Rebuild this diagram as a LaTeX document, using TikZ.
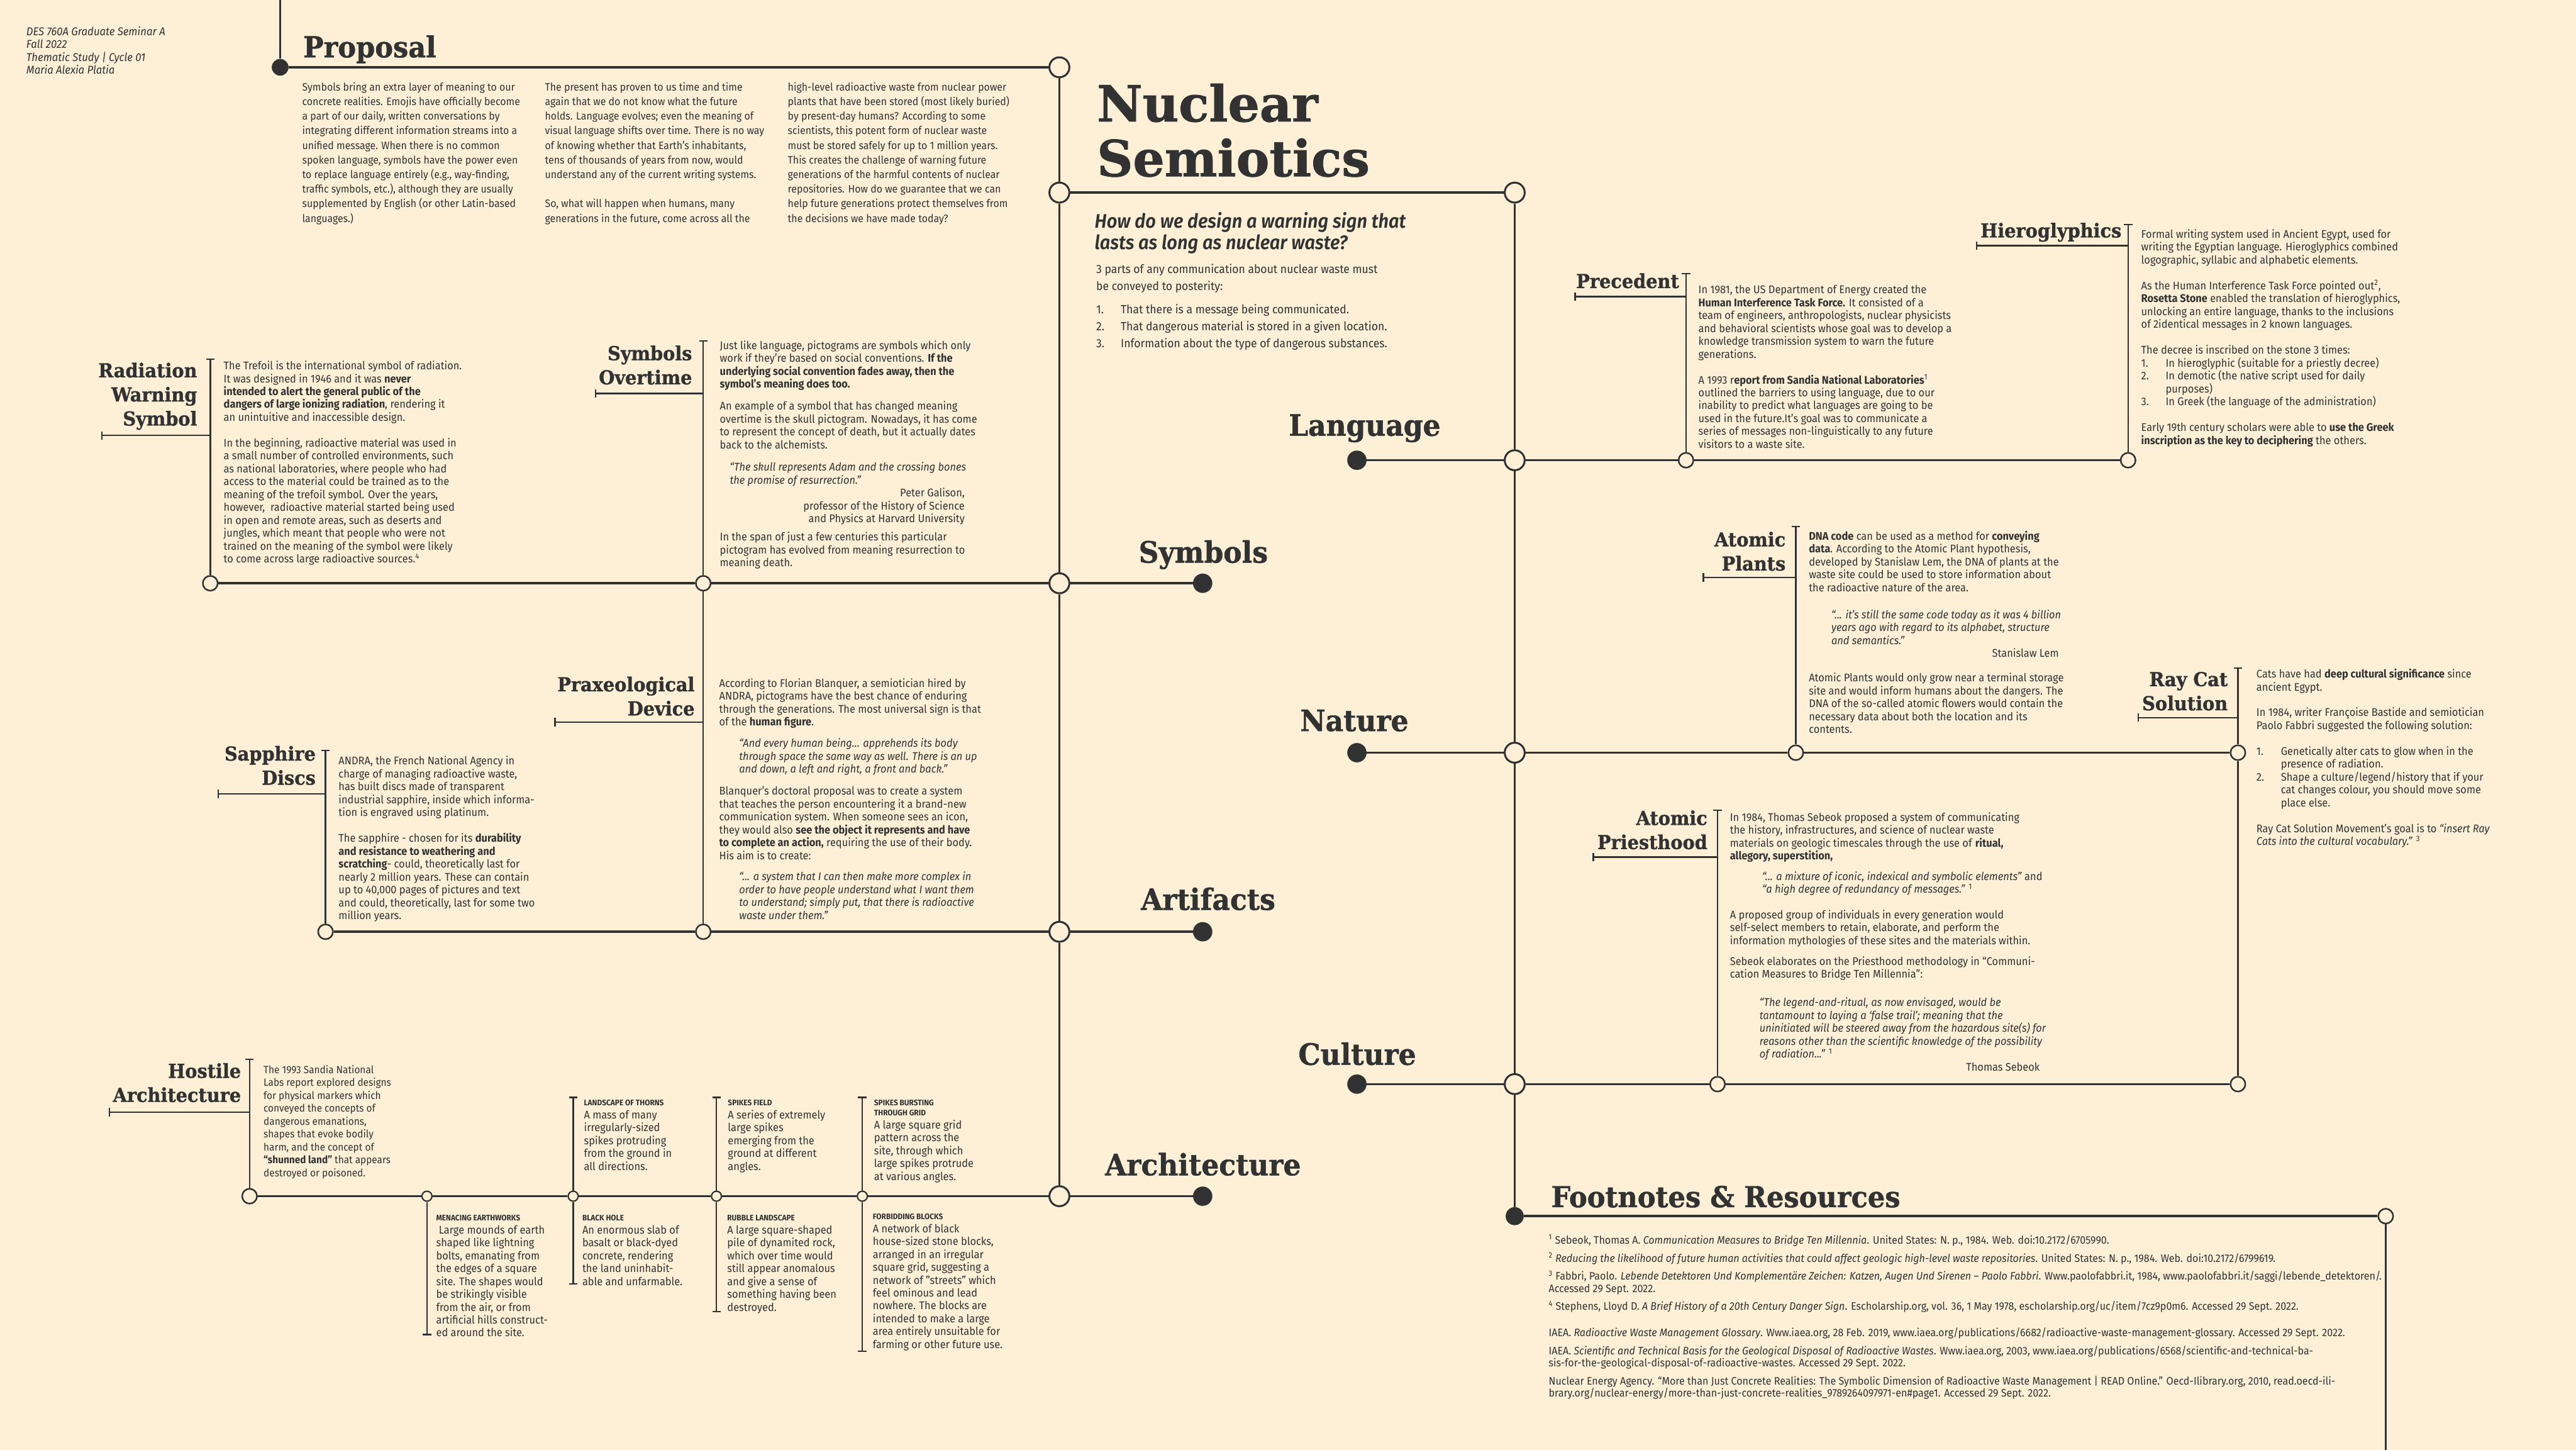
\documentclass[tikz,border=0pt]{standalone}
\usepackage{fontspec}
\setmainfont{Fira Sans}[UprightFont=*, ItalicFont=* Italic, BoldFont=* Bold, BoldItalicFont=* SemiBold Italic, FakeStretch=0.93]
\newfontfamily\slab{DejaVu Serif}[FakeStretch=0.94, BoldFeatures={FakeBold=1}]
\newfontfamily\titleslab{DejaVu Serif}[BoldFeatures={FakeBold=1}]
\usetikzlibrary{arrows.meta}
\definecolor{paper}{RGB}{253,240,215}
\definecolor{ink}{RGB}{50,50,50}
\newcommand{\itm}[1]{\makebox[0.76cm][l]{#1}}
\newcommand{\qin}{\hspace*{0.62cm}}
\newcommand{\archhead}{\bfseries\fontsize{7.1}{8}\selectfont}

\begin{document}
\begin{tikzpicture}[
  every node/.style={text=ink, inner sep=0pt},
  mainline/.style={draw=ink, line width=2pt},
  thinline/.style={draw=ink, line width=1.3pt},
  tick/.style={thinline, -{Bar[width=0.26cm]}},
  hub/.style={circle, draw=ink, line width=1.7pt, fill=paper, minimum size=0.62cm},
  joint/.style={circle, draw=ink, line width=1.4pt, fill=paper, minimum size=0.46cm},
  knot/.style={circle, draw=ink, line width=1.2pt, fill=paper, minimum size=0.31cm},
  enddot/.style={circle, fill=ink, minimum size=0.6cm},
  rowlabel/.style={font=\slab\bfseries\fontsize{26}{30}\selectfont, anchor=base},
  sublabel/.style={font=\slab\bfseries\fontsize{17}{21.3}\selectfont, align=right, anchor=south east, text depth=0pt},
  heading/.style={font=\slab\bfseries\fontsize{25.5}{30}\selectfont, anchor=base west},
  blurb/.style={font=\fontsize{9.8}{11.38}\selectfont, align=left, anchor=north west},
  propblurb/.style={font=\fontsize{9.5}{12.9}\selectfont, align=left, anchor=north west}
]
\useasboundingbox (0,0) rectangle (80,45.01);
\fill[paper] (0,0) rectangle (80,45.01);

% spine hubs
\coordinate (ptop) at (8.70,45.01);
\node[enddot, minimum size=0.52cm] (pdot) at (8.70,42.92) {};
\node[hub] (h1) at (32.90,42.92) {};
\node[hub] (h2) at (32.90,39.03) {};
\node[hub] (h3) at (47.04,39.03) {};
\node[hub] (hsym) at (32.90,26.90) {};
\node[hub] (hart) at (32.90,16.08) {};
\node[hub] (harc) at (32.90,7.87) {};
\node[hub] (hlan) at (47.04,30.72) {};
\node[hub] (hnat) at (47.04,21.64) {};
\node[hub] (hcul) at (47.04,11.35) {};
\node[enddot, minimum size=0.56cm] (fdot) at (47.04,7.25) {};
\node[joint] (fcirc) at (74.09,7.25) {};
\coordinate (fend) at (74.09,0);

% row end dots and labels
\node[enddot] (dsym) at (37.35,26.90) {};
\node[enddot] (dart) at (37.35,16.08) {};
\node[enddot] (darc) at (37.35,7.87) {};
\node[enddot] (dlan) at (42.14,30.72) {};
\node[enddot] (dnat) at (42.14,21.64) {};
\node[enddot] (dcul) at (42.14,11.35) {};
\node[rowlabel] (lsym) at (37.37,27.54) {Symbols};
\node[rowlabel] (lart) at (37.52,16.76) {Artifacts};
\node[rowlabel] (larc) at (37.36,8.52) {Architecture};
\node[rowlabel] (llan) at (42.38,31.48) {Language};
\node[rowlabel] (lnat) at (42.06,22.31) {Nature};
\node[rowlabel] (lcul) at (42.15,11.95) {Culture};

% branch joints
\node[joint] (jrad) at (6.53,26.90) {};
\node[joint] (jovt) at (21.84,26.90) {};
\node[joint] (jprx) at (21.84,16.08) {};
\node[joint] (jsap) at (10.11,16.08) {};
\node[joint] (jhos) at (7.75,7.87) {};
\node[knot] (k1) at (13.26,7.87) {};
\node[knot] (k2) at (17.80,7.87) {};
\node[knot] (k3) at (22.25,7.87) {};
\node[knot] (k4) at (26.78,7.87) {};
\node[joint] (jpre) at (52.36,30.72) {};
\node[joint] (jhie) at (66.09,30.72) {};
\node[joint] (jatp) at (55.77,21.64) {};
\node[joint] (jray) at (69.50,21.64) {};
\node[joint] (jpri) at (53.34,11.35) {};
\node[joint] (jrayb) at (69.50,11.35) {};

% tick ends
\coordinate (trad) at (6.53,33.88);   \coordinate (urad) at (6.53,31.49);   \coordinate (lrad) at (3.14,31.49);
\coordinate (tovt) at (21.84,34.44);  \coordinate (uovt) at (21.84,32.79);  \coordinate (lovt) at (18.47,32.79);
\coordinate (uprx) at (21.84,22.59);  \coordinate (lprx) at (17.21,22.59);
\coordinate (tsap) at (10.11,21.73);  \coordinate (usap) at (10.11,20.36);  \coordinate (lsap) at (6.75,20.36);
\coordinate (thos) at (7.75,12.14);   \coordinate (uhos) at (7.75,10.48);   \coordinate (lhos) at (3.37,10.48);
\coordinate (ta2) at (17.80,10.96);   \coordinate (ta3) at (22.25,10.96);   \coordinate (ta4) at (26.78,10.96);
\coordinate (tb1) at (13.26,3.55);    \coordinate (tb2) at (17.80,5.13);    \coordinate (tb3) at (22.25,4.26);    \coordinate (tb4) at (26.78,3.04);
\coordinate (tpre) at (52.36,36.54);  \coordinate (upre) at (52.36,35.80);  \coordinate (lpre) at (48.89,35.80);
\coordinate (thie) at (66.09,38.06);  \coordinate (uhie) at (66.09,37.38);  \coordinate (lhie) at (61.36,37.38);
\coordinate (tatp) at (55.77,28.68);  \coordinate (uatp) at (55.77,27.08);  \coordinate (latp) at (52.88,27.08);
\coordinate (tray) at (69.50,24.29);  \coordinate (uray) at (69.50,22.73);  \coordinate (lray) at (66.38,22.73);
\coordinate (tpri) at (53.34,19.88);  \coordinate (upri) at (53.34,18.40);  \coordinate (lpri) at (49.46,18.40);

% connectors
\draw[mainline] (ptop) -- (pdot);
\draw[mainline] (pdot) -- (h1);
\draw[mainline] (h1) -- (h2) -- (hsym) -- (hart) -- (harc);
\draw[mainline] (h2) -- (h3);
\draw[mainline] (h3) -- (hlan) -- (hnat) -- (hcul) -- (fdot);
\draw[mainline] (fdot) -- (fcirc);
\draw[thinline] (fcirc) -- (fend);
\draw[mainline] (dsym) -- (hsym) -- (jovt) -- (jrad);
\draw[mainline] (dart) -- (hart) -- (jprx) -- (jsap);
\draw[mainline] (darc) -- (harc) -- (k4) -- (k3) -- (k2) -- (k1) -- (jhos);
\draw[mainline] (dlan) -- (hlan) -- (jpre) -- (jhie);
\draw[mainline] (dnat) -- (hnat) -- (jatp) -- (jray);
\draw[mainline] (dcul) -- (hcul) -- (jpri) -- (jrayb);
\draw[tick] (jrad) -- (trad);  \draw[tick] (urad) -- (lrad);
\draw[tick] (jovt) -- (tovt);  \draw[tick] (uovt) -- (lovt);
\draw[thinline] (jovt) -- (jprx);  \draw[tick] (uprx) -- (lprx);
\draw[tick] (jsap) -- (tsap);  \draw[tick] (usap) -- (lsap);
\draw[tick] (jhos) -- (thos);  \draw[tick] (uhos) -- (lhos);
\draw[tick] (k2) -- (ta2);  \draw[tick] (k3) -- (ta3);  \draw[tick] (k4) -- (ta4);
\draw[tick] (k1) -- (tb1);  \draw[tick] (k2) -- (tb2);  \draw[tick] (k3) -- (tb3);  \draw[tick] (k4) -- (tb4);
\draw[tick] (jpre) -- (tpre);  \draw[tick] (upre) -- (lpre);
\draw[tick] (jhie) -- (thie);  \draw[tick] (uhie) -- (lhie);
\draw[tick] (jatp) -- (tatp);  \draw[tick] (uatp) -- (latp);
\draw[tick] (jray) -- (tray);  \draw[thinline] (jray) -- (jrayb);  \draw[tick] (uray) -- (lray);
\draw[tick] (jpri) -- (tpri);  \draw[tick] (upri) -- (lpri);

% header and proposal
\node[font=\itshape\fontsize{10}{11.4}\selectfont, align=left, anchor=north west] (course) at (0.81,44.19)
  {DES 760A Graduate Seminar A\\Fall 2022\\Thematic Study | Cycle 01\\Maria Alexia Platia};
\node[heading] (proposal) at (9.41,43.23) {Proposal};
\node[propblurb] (prop1) at (9.38,42.46) {Symbols bring an extra layer of meaning to our\\
concrete realities. Emojis have officially become\\
a part of our daily, written conversations by\\
integrating different information streams into a\\
unified message. When there is no common\\
spoken language, symbols have the power even\\
to replace language entirely (e.g., way-finding,\\
traffic symbols, etc.), although they are usually\\
supplemented by English (or other Latin-based\\
languages.)};
\node[propblurb] (prop2) at (16.92,42.46) {The present has proven to us time and time\\
again that we do not know what the future\\
holds. Language evolves; even the meaning of\\
visual language shifts over time. There is no way\\
of knowing whether that Earth’s inhabitants,\\
tens of thousands of years from now, would\\
understand any of the current writing systems.\\[12.9pt]
So, what will happen when humans, many\\
generations in the future, come across all the};
\node[propblurb] (prop3) at (24.46,42.46) {high-level radioactive waste from nuclear power\\
plants that have been stored (most likely buried)\\
by present-day humans? According to some\\
scientists, this potent form of nuclear waste\\
must be stored safely for up to 1 million years.\\
This creates the challenge of warning future\\
generations of the harmful contents of nuclear\\
repositories. How do we guarantee that we can\\
help future generations protect themselves from\\
the decisions we have made today?};

% title block
\node[font=\titleslab\bfseries\fontsize{44}{48.4}\selectfont, align=left, anchor=north west] (title) at (34.06,42.42) {Nuclear\\Semiotics};
\node[font=\bfseries\itshape\fontsize{17.3}{19}\selectfont, align=left, anchor=north west] (ask) at (33.99,38.42)
  {How do we design a warning sign that\\lasts as long as nuclear waste?};
\node[font=\fontsize{10.5}{14.8}\selectfont, align=left, anchor=north west] (intro) at (34.04,36.81)
  {3 parts of any communication about nuclear waste must\\
be conveyed to posterity:\\[6pt]
\itm{1.}That there is a message being communicated.\\
\itm{2.}That dangerous material is stored in a given location.\\
\itm{3.}Information about the type of dangerous substances.};

% symbols branch
\node[sublabel] (rad) at (6.13,31.79) {Radiation\\Warning\\Symbol};
\node[blurb] (radtext) at (6.94,33.81) {The Trefoil is the international symbol of radiation.\\
It was designed in 1946 and it was \textbf{never}\\
\textbf{intended to alert the general public of the}\\
\textbf{dangers of large ionizing radiation}, rendering it\\
an unintuitive and inaccessible design.\\[11.38pt]
In the beginning, radioactive material was used in\\
a small number of controlled environments, such\\
as national laboratories, where people who had\\
access to the material could be trained as to the\\
meaning of the trefoil symbol. Over the years,\\
however,\ \ radioactive material started being used\\
in open and remote areas, such as deserts and\\
jungles, which meant that people who were not\\
trained on the meaning of the symbol were likely\\
to come across large radioactive sources.\textsuperscript{4}};
\node[sublabel] (ovt) at (21.50,33.07) {Symbols\\Overtime};
\node[blurb] (ovttext) at (22.35,34.44) {Just like language, pictograms are symbols which only\\
work if they're based on social conventions. \textbf{If the}\\
\textbf{underlying social convention fades away, then the}\\
\textbf{symbol's meaning does too.}\\[8.2pt]
An example of a symbol that has changed meaning\\
overtime is the skull pictogram. Nowadays, it has come\\
to represent the concept of death, but it actually dates\\
back to the alchemists.\\[8.3pt]
\hspace*{0.31cm}\textit{“The skull represents Adam and the crossing bones}\\
\hspace*{0.31cm}\textit{the promise of resurrection.”}\\
\makebox[7.60cm][r]{Peter Galison,}\\
\makebox[7.60cm][r]{professor of the History of Science}\\
\makebox[7.60cm][r]{and Physics at Harvard University}\\[4.9pt]
In the span of just a few centuries this particular\\
pictogram has evolved from meaning resurrection to\\
meaning death.};

% artifacts branch
\node[sublabel] (prx) at (21.58,22.79) {Praxeological\\Device};
\node[blurb] (prxtext) at (22.33,23.95) {According to Florian Blanquer, a semiotician hired by\\
ANDRA, pictograms have the best chance of enduring\\
through the generations. The most universal sign is that\\
of the \textbf{human figure}.\\[7.6pt]
\qin\textit{“And every human being... apprehends its body}\\
\qin\textit{through space the same way as well. There is an up}\\
\qin\textit{and down, a left and right, a front and back.”}\\[8pt]
Blanquer’s doctoral proposal was to create a system\\
that teaches the person encountering it a brand-new\\
communication system. When someone sees an icon,\\
they would also \textbf{see the object it represents and have}\\
\textbf{to complete an action,} requiring the use of their body.\\
His aim is to create:\\[7.2pt]
\qin\textit{“... a system that I can then make more complex in}\\
\qin\textit{order to have people understand what I want them}\\
\qin\textit{to understand; simply put, that there is radioactive}\\
\qin\textit{waste under them.”}};
\node[sublabel] (sap) at (9.81,20.64) {Sapphire\\Discs};
\node[blurb] (saptext) at (10.51,21.54) {ANDRA, the French National Agency in\\
charge of managing radioactive waste,\\
has built discs made of transparent\\
industrial sapphire, inside which informa-\\
tion is engraved using platinum.\\[11.38pt]
The sapphire - chosen for its \textbf{durability}\\
\textbf{and resistance to weathering and}\\
\textbf{scratching}- could, theoretically last for\\
nearly 2 million years. These can contain\\
up to 40,000 pages of pictures and text\\
and could, theoretically, last for some two\\
million years.};

% architecture branch
\node[sublabel] (hos) at (7.49,10.79) {Hostile\\Architecture};
\node[blurb, font=\fontsize{9.2}{11.38}\selectfont] (hostext) at (8.18,11.94) {The 1993 Sandia National\\
Labs report explored designs\\
for physical markers which\\
conveyed the concepts of\\
dangerous emanations,\\
shapes that evoke bodily\\
harm, and the concept of\\
\textbf{“shunned land”} that appears\\
destroyed or poisoned.};
\node[blurb] (thorns) at (18.13,10.86) {{\archhead LANDSCAPE OF THORNS}\\
A mass of many\\irregularly-sized\\spikes protruding\\from the ground in\\all directions.};
\node[blurb] (spikes) at (22.60,10.86) {{\archhead SPIKES FIELD}\\
A series of extremely\\large spikes\\emerging from the\\ground at different\\angles.};
\node[blurb] (grid) at (27.14,10.86) {{\archhead SPIKES BURSTING}\\[-2.6pt]
{\archhead THROUGH GRID}\\
A large square grid\\pattern across the\\site, through which\\large spikes protrude\\at various angles.};
\node[blurb] (earth) at (13.54,7.29) {{\archhead MENACING EARTHWORKS}\\
\ Large mounds of earth\\shaped like lightning\\bolts, emanating from\\the edges of a square\\site. The shapes would\\be strikingly visible\\from the air, or from\\artificial hills construct-\\ed around the site.};
\node[blurb] (hole) at (18.08,7.29) {{\archhead BLACK HOLE}\\
An enormous slab of\\basalt or black-dyed\\concrete, rendering\\the land uninhabit-\\able and unfarmable.};
\node[blurb] (rubble) at (22.58,7.29) {{\archhead RUBBLE LANDSCAPE}\\
A large square-shaped\\pile of dynamited rock,\\which over time would\\still appear anomalous\\and give a sense of\\something having been\\destroyed.};
\node[blurb] (blocks) at (27.10,7.33) {{\archhead FORBIDDING BLOCKS}\\
A network of black\\house-sized stone blocks,\\arranged in an irregular\\square grid, suggesting a\\network of "streets" which\\feel ominous and lead\\nowhere. The blocks are\\intended to make a large\\area entirely unsuitable for\\farming or other future use.};

% language branch
\node[sublabel] (pre) at (52.15,36.06) {Precedent};
\node[blurb] (pretext) at (52.74,36.16) {In 1981, the US Department of Energy created the\\
\textbf{Human Interference Task Force.} It consisted of a\\
team of engineers, anthropologists, nuclear physicists\\
and behavioral scientists whose goal was to develop a\\
knowledge transmission system to warn the future\\
generations.\\[11.38pt]
A 1993 r\textbf{eport from Sandia National Laboratories}\textsuperscript{1}\\
outlined the barriers to using language, due to our\\
inability to predict what languages are going to be\\
used in the future.It’s goal was to communicate a\\
series of messages non-linguistically to any future\\
visitors to a waste site.};
\node[sublabel] (hie) at (65.89,37.63) {Hieroglyphics};
\node[blurb] (hietext) at (66.49,37.90) {Formal writing system used in Ancient Egypt, used for\\
writing the Egyptian language. Hieroglyphics combined\\
logographic, syllabic and alphabetic elements.\\[11.5pt]
As the Human Interference Task Force pointed out\textsuperscript{2},\\
\textbf{Rosetta Stone} enabled the translation of hieroglyphics,\\
unlocking an entire language, thanks to the inclusions\\
of 2identical messages in 2 known languages.\\[11.4pt]
The decree is inscribed on the stone 3 times:\\
\itm{1.}In hieroglyphic (suitable for a priestly decree)\\
\itm{2.}In demotic (the native script used for daily\\
\itm{}purposes)\\
\itm{3.}In Greek (the language of the administration)\\[11.4pt]
Early 19th century scholars were able to \textbf{use the Greek}\\
\textbf{inscription as the key to deciphering} the others.};

% nature branch
\node[sublabel] (atp) at (55.46,27.29) {Atomic\\Plants};
\node[blurb] (atptext) at (56.17,28.53) {\textbf{DNA code} can be used as a method for \textbf{conveying}\\
\textbf{data}. According to the Atomic Plant hypothesis,\\
developed by Stanislaw Lem, the DNA of plants at the\\
waste site could be used to store information about\\
the radioactive nature of the area.\\[12.4pt]
\hspace*{0.7cm}\textit{“... it’s still the same code today as it was 4 billion}\\
\hspace*{0.7cm}\textit{years ago with regard to its alphabet, structure}\\
\hspace*{0.7cm}\textit{and semantics.”}\\
\makebox[7.76cm][r]{Stanislaw Lem}\\[10.3pt]
Atomic Plants would only grow near a terminal storage\\
site and would inform humans about the dangers. The\\
DNA of the so-called atomic flowers would contain the\\
necessary data about both the location and its\\
contents.};
\node[sublabel] (ray) at (69.19,22.95) {Ray Cat\\Solution};
\node[blurb] (raytext) at (70.07,24.25) {Cats have had \textbf{deep cultural significance} since\\
ancient Egypt.\\[11.38pt]
In 1984, writer Françoise Bastide and semiotician\\
Paolo Fabbri suggested the following solution:\\[11.38pt]
\itm{1.}Genetically alter cats to glow when in the\\
\itm{}presence of radiation.\\
\itm{2.}Shape a culture/legend/history that if your\\
\itm{}cat changes colour, you should move some\\
\itm{}place else.\\[11.38pt]
Ray Cat Solution Movement’s goal is to \textit{“insert Ray}\\
\textit{Cats into the cultural vocabulary.”} \textsuperscript{3}};

% culture branch
\node[sublabel] (pri) at (53.03,18.64) {Atomic\\Priesthood};
\node[blurb] (pritext) at (53.72,19.79) {In 1984, Thomas Sebeok proposed a system of communicating\\
the history, infrastructures, and science of nuclear waste\\
materials on geologic timescales through the use of \textbf{ritual,}\\
\textbf{allegory, superstition,}\\[6.8pt]
\hspace*{1cm}\textit{“... a mixture of iconic, indexical and symbolic elements”} and\\
\hspace*{1cm}\textit{“a high degree of redundancy of messages.”} \textsuperscript{1}\\[11.1pt]
A proposed group of individuals in every generation would\\
self-select members to retain, elaborate, and perform the\\
information mythologies of these sites and the materials within.\\[7pt]
Sebeok elaborates on the Priesthood methodology in “Communi-\\
cation Measures to Bridge Ten Millennia”:\\[13.6pt]
\hspace*{0.92cm}\textit{“The legend-and-ritual, as now envisaged, would be}\\
\hspace*{0.92cm}\textit{tantamount to laying a ‘false trail’; meaning that the}\\
\hspace*{0.92cm}\textit{uninitiated will be steered away from the hazardous site(s) for}\\
\hspace*{0.92cm}\textit{reasons other than the scientific knowledge of the possibility}\\
\hspace*{0.92cm}\textit{of radiation...”} \textsuperscript{1}\\
\makebox[9.62cm][r]{Thomas Sebeok}};

% footnotes
\node[heading] (foot) at (48.17,7.53) {Footnotes \& Resources};
\node[font=\fontsize{9.6}{10.8}\selectfont, align=left, anchor=north west] (refs) at (48.09,6.68)
{\textsuperscript{1} Sebeok, Thomas A. \textit{Communication Measures to Bridge Ten Millennia}. United States: N. p., 1984. Web. doi:10.2172/6705990.\\[5.1pt]
\textsuperscript{2} \textit{Reducing the likelihood of future human activities that could affect geologic high-level waste repositories}. United States: N. p., 1984. Web. doi:10.2172/6799619.\\[5.1pt]
\textsuperscript{3} Fabbri, Paolo. \textit{Lebende Detektoren Und Komplementäre Zeichen: Katzen, Augen Und Sirenen – Paolo Fabbri}. Www.paolofabbri.it, 1984, www.paolofabbri.it/saggi/lebende\_detektoren/.\\
Accessed 29 Sept. 2022.\\[5.1pt]
\textsuperscript{4} Stephens, Lloyd D. \textit{A Brief History of a 20th Century Danger Sign}. Escholarship.org, vol. 36, 1 May 1978, escholarship.org/uc/item/7cz9p0m6. Accessed 29 Sept. 2022.\\[12.5pt]
IAEA. \textit{Radioactive Waste Management Glossary}. Www.iaea.org, 28 Feb. 2019, www.iaea.org/publications/6682/radioactive-waste-management-glossary. Accessed 29 Sept. 2022.\\[5.1pt]
IAEA. \textit{Scientific and Technical Basis for the Geological Disposal of Radioactive Wastes}. Www.iaea.org, 2003, www.iaea.org/publications/6568/scientific-and-technical-ba-\\
sis-for-the-geological-disposal-of-radioactive-wastes. Accessed 29 Sept. 2022.\\[5.1pt]
Nuclear Energy Agency. “More than Just Concrete Realities: The Symbolic Dimension of Radioactive Waste Management | READ Online.” Oecd-Ilibrary.org, 2010, read.oecd-ili-\\
brary.org/nuclear-energy/more-than-just-concrete-realities\_9789264097971-en\#page1. Accessed 29 Sept. 2022.};
\end{tikzpicture}
\end{document}
